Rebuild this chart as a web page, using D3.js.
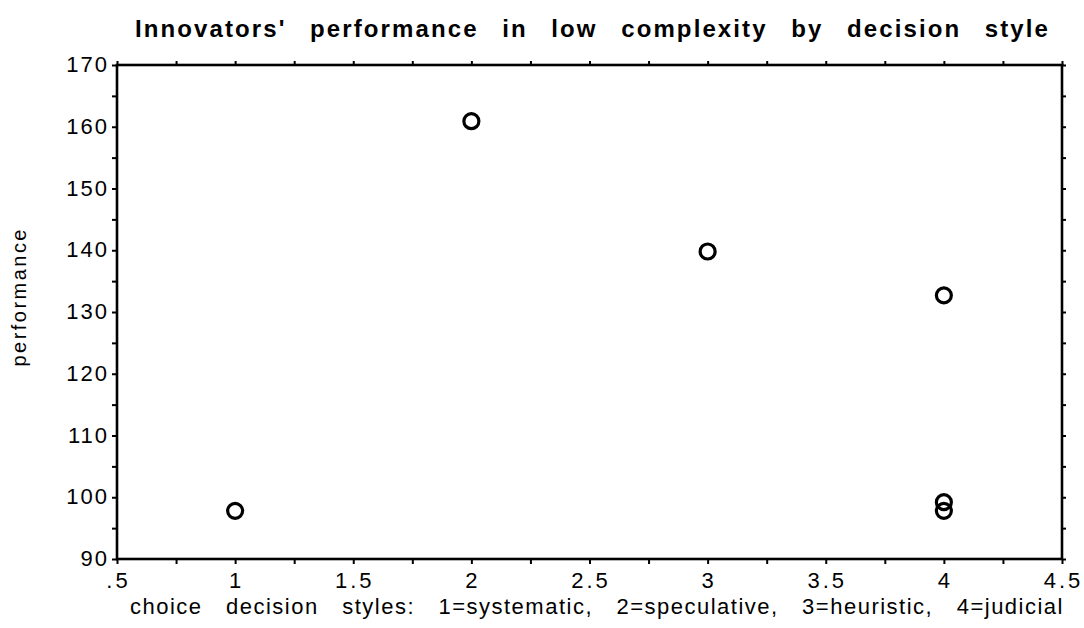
<!DOCTYPE html>
<html>
<head>
<meta charset="utf-8">
<script src="https://cdn.jsdelivr.net/npm/d3@7"></script>
<style>
  body { margin: 0; background: #fff; }
  svg { display: block; }
  text { font-family: "Liberation Sans", Arial, Helvetica, sans-serif; fill: #000; }
</style>
</head>
<body>
<svg id="chart" width="1084" height="628"></svg>
<script>
// Data
const decisionStyle = [1, 2, 3, 4, 4, 4];
const performance   = [97.8, 160.9, 139.8, 132.7, 99.2, 97.8];
const xTickValues = [0.5, 1, 1.5, 2, 2.5, 3, 3.5, 4, 4.5];
const xTickLabels = [".5", "1", "1.5", "2", "2.5", "3", "3.5", "4", "4.5"];
const yTickValues = [90, 100, 110, 120, 130, 140, 150, 160, 170];
const titleText = "Innovators' performance in low complexity by decision style";
const xLabelText = "choice decision styles: 1=systematic, 2=speculative, 3=heuristic, 4=judicial";
const yLabelText = "performance";

const svg = d3.select("#chart");
const L = 117, R = 1062, T = 65, B = 559;

const x = d3.scaleLinear().domain([0.5, 4.5]).range([L, R]);
const y = d3.scaleLinear().domain([90, 170]).range([B, T]);

const minorX = d3.range(0.5, 4.5001, 0.25);
const minorY = d3.range(90, 170.001, 5);

// stretch a text to a target width by adding word spacing
function fitWords(sel, target) {
  const node = sel.node();
  const w = node.getComputedTextLength();
  const gaps = (node.textContent.match(/ /g) || []).length;
  if (gaps > 0) sel.attr("word-spacing", Math.max(0, (target - w) / gaps));
}

// frame
svg.append("rect").attr("x", L).attr("y", T).attr("width", R - L).attr("height", B - T)
  .attr("fill", "none").attr("stroke", "#000").attr("stroke-width", 2.6);

// Bottom axis
const gBottom = svg.append("g").attr("transform", `translate(0,${B})`)
  .call(d3.axisBottom(x).tickValues(minorX).tickSize(5).tickFormat(""));
gBottom.select(".domain").remove();
gBottom.selectAll("line").attr("stroke-width", 2);
svg.append("g").selectAll("text").data(xTickValues).join("text")
  .attr("x", d => x(d) + 1.5).attr("y", 588)
  .attr("text-anchor", "middle").attr("font-size", 22).attr("letter-spacing", 3)
  .text((d, i) => xTickLabels[i]);

// Top axis
const gTop = svg.append("g").attr("transform", `translate(0,${T})`)
  .call(d3.axisTop(x).tickValues(minorX).tickSize(4).tickFormat(""));
gTop.select(".domain").remove();
gTop.selectAll("line").attr("stroke-width", 2);

// Left axis
const gLeft = svg.append("g").attr("transform", `translate(${L},0)`)
  .call(d3.axisLeft(y).tickValues(minorY).tickSize(5).tickFormat(""));
gLeft.select(".domain").remove();
gLeft.selectAll("line").attr("stroke-width", 2);
svg.append("g").selectAll("text").data(yTickValues).join("text")
  .attr("x", L - 8).attr("y", d => y(d) + 7)
  .attr("text-anchor", "end").attr("font-size", 22).attr("letter-spacing", 2)
  .text(d => d);

// Right axis
const gRight = svg.append("g").attr("transform", `translate(${R},0)`)
  .call(d3.axisRight(y).tickValues(minorY).tickSize(4).tickFormat(""));
gRight.select(".domain").remove();
gRight.selectAll("line").attr("stroke-width", 2);

// Points
svg.append("g").selectAll("circle").data(decisionStyle).join("circle")
  .attr("cx", d => x(d)).attr("cy", (d, i) => y(performance[i]))
  .attr("r", 7.5).attr("fill", "none").attr("stroke", "#000").attr("stroke-width", 3.2);

// Title
const title = svg.append("text").attr("x", 135).attr("y", 37).attr("text-anchor", "start")
  .attr("font-size", 24).attr("font-weight", "bold").attr("letter-spacing", 2.1)
  .text(titleText);
fitWords(title, 915);

// X label
const xl = svg.append("text").attr("x", 130).attr("y", 614).attr("text-anchor", "start")
  .attr("font-size", 22).attr("letter-spacing", 1.5)
  .text(xLabelText);
fitWords(xl, 934);

// Y label
svg.append("text").attr("transform", `translate(26,298) rotate(-90)`).attr("text-anchor", "middle")
  .attr("font-size", 20).attr("textLength", 137).attr("lengthAdjust", "spacing")
  .text(yLabelText);
</script>
</body>
</html>
